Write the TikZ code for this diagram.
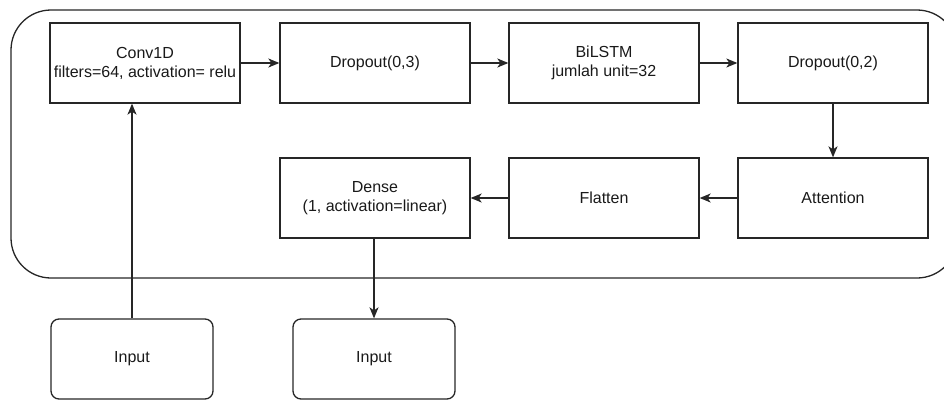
\documentclass[tikz,border=0pt]{standalone}
\usepackage{fontspec}
\setmainfont{Liberation Sans}
\usetikzlibrary{arrows.meta}
\begin{document}
\begin{tikzpicture}[x=1pt,y=-1pt,
  every node/.style={font=\fontsize{16}{19}\selectfont, text=black!90, align=center, inner sep=0pt},
  layer/.style={draw=black!85, line width=1.3pt, minimum width=190pt, minimum height=80pt},
  terminal/.style={draw=black!85, line width=1.3pt, rounded corners=8pt, minimum width=162pt, minimum height=80pt},
  flow/.style={draw=black!85, line width=1.3pt, -{Stealth[length=11pt,width=9pt,inset=3pt]}}]
\useasboundingbox (0,0) rectangle (944,399);
% model container
\draw[black!85, line width=1.3pt, rounded corners=40pt] (11,10) rectangle (957,278);
% layers, first row
\node[layer] (conv) at (145,63) {Conv1D\\filters=64, activation= relu};
\node[layer] (drop1) at (375,63) {Dropout(0,3)};
\node[layer] (lstm) at (604,63) {BiLSTM\\jumlah unit=32};
\node[layer] (drop2) at (833,63) {Dropout(0,2)};
% layers, second row
\node[layer] (att) at (833,198) {Attention};
\node[layer] (flat) at (604,198) {Flatten};
\node[layer] (dense) at (375,198) {Dense\\(1, activation=linear)};
% input / output terminals
\node[terminal] (in) at (132,359) {Input};
\node[terminal] (out) at (374,359) {Input};
% connections
\draw[flow] (conv) -- (drop1);
\draw[flow] (drop1) -- (lstm);
\draw[flow] (lstm) -- (drop2);
\draw[flow] (drop2) -- (att);
\draw[flow] (att) -- (flat);
\draw[flow] (flat) -- (dense);
\draw[flow] (in.north) -- (in.north |- conv.south);
\draw[flow] (dense.south -| out.north) -- (out.north);
\end{tikzpicture}
\end{document}
